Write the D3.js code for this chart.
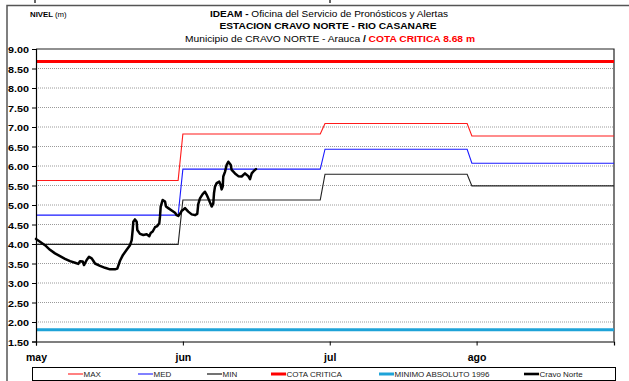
<!DOCTYPE html>
<html>
<head>
<meta charset="utf-8">
<script src="https://cdn.jsdelivr.net/npm/d3@7"></script>
<style>
  html, body { margin: 0; padding: 0; background: #fff; }
  svg { display: block; }
  text { font-family: "Liberation Sans", Arial, sans-serif; }
</style>
</head>
<body>
<script>
// ---- Data -------------------------------------------------------------
const monthLabels = ["may", "jun", "jul", "ago"];
const monthStart  = ["2010-05-01", "2010-06-01", "2010-07-01", "2010-08-01"];
const monthEnd    = ["2010-05-31", "2010-06-30", "2010-07-31", "2010-08-31"];
const labelEvery  = 31;   // days between axis labels

// Historical monthly levels (m)
const maxLevel = [5.63, 6.82, 7.09, 6.77];
const medLevel = [4.74, 5.92, 6.43, 6.07];
const minLevel = [3.99, 5.13, 5.79, 5.49];

const cotaCritica = 8.68;     // critical level
const minimoAbsoluto = 1.80;  // absolute minimum, 1996

const yTicks = [1.5, 2.0, 2.5, 3.0, 3.5, 4.0, 4.5, 5.0, 5.5, 6.0, 6.5, 7.0, 7.5, 8.0, 8.5, 9.0];

// Observed level at Cravo Norte: reading time (days after 1 May) and level (m)
const cravoDay = [0, 0.84, 1.90, 2.95, 4.01, 5.07, 6.12, 7.18, 8.23, 8.93, 9.29, 9.86, 10.13, 10.70,
  11.19, 11.76, 12.09, 12.45, 13.51, 14.56, 15.62, 16.67, 17.16, 17.73, 18.36, 19.14, 19.84,
  20.20, 20.41, 20.54, 20.89, 21.25, 21.38, 21.95, 22.65, 23.36, 23.91, 24.21, 24.63, 25.12,
  25.60, 26.02, 26.17, 26.32, 26.74, 27.23, 27.44, 27.92, 28.64, 29.34, 29.70, 30.03, 30.54,
  30.75, 31.09, 31.45, 32.14, 32.86, 33.56, 34.04, 34.25, 34.61, 35.18, 35.67, 36.03, 36.51,
  37.08, 37.42, 37.57, 37.78, 38.14, 38.69, 38.98, 39.19, 39.41, 39.53, 39.89, 40.25, 40.59,
  41.09, 41.30, 42.00, 42.70, 43.41, 44.11, 44.81, 45.17, 45.53, 46.01, 46.43];
const cravoLevel = [4.13, 4.06, 3.97, 3.85, 3.76, 3.69, 3.62, 3.56, 3.52, 3.49, 3.56, 3.55, 3.46, 3.59,
  3.67, 3.63, 3.57, 3.50, 3.44, 3.39, 3.35, 3.35, 3.37, 3.57, 3.72, 3.85, 3.97,
  4.10, 4.36, 4.57, 4.63, 4.57, 4.36, 4.26, 4.23, 4.25, 4.20, 4.28, 4.32, 4.43,
  4.46, 4.53, 4.70, 4.96, 5.13, 5.09, 4.96, 4.92, 4.86, 4.80, 4.74, 4.72, 4.80,
  4.85, 4.88, 4.92, 4.83, 4.76, 4.74, 4.77, 5.02, 5.17, 5.28, 5.34, 5.26, 5.13,
  4.96, 5.04, 5.30, 5.47, 5.56, 5.60, 5.51, 5.40, 5.47, 5.73, 5.85, 6.03, 6.11,
  6.03, 5.90, 5.81, 5.74, 5.73, 5.81, 5.74, 5.66, 5.81, 5.88, 5.92];

// ---- Layout -----------------------------------------------------------
const W = 629, H = 381;
const plot = { left: 36, right: 614, top: 49, bottom: 341.5 };

const parse = d3.timeParse("%Y-%m-%d");
const start = parse(monthStart[0]);
const x = d3.scaleTime()
  .domain([start, parse(monthEnd[3])])
  .range([plot.left, plot.right]);
const y = d3.scaleLinear().domain([1.5, 9.0]).range([plot.bottom, plot.top]);

const svg = d3.select("body").append("svg").attr("width", W).attr("height", H);

// outer chart frame
svg.append("path")
  .attr("d", `M7,${H + 2} V5.5 H${W + 2}`)
  .attr("fill", "none").attr("stroke", "#555").attr("stroke-width", 1.5);
svg.selectAll("line.topmark").data([35, 330]).join("line")
  .attr("x1", d => d).attr("x2", d => d).attr("y1", 0).attr("y2", 3)
  .attr("stroke", "#333").attr("stroke-width", 1.5);

// ---- Titles -----------------------------------------------------------
const t1 = svg.append("text").attr("x", 329).attr("y", 17).attr("text-anchor", "middle")
  .attr("font-size", 9.8).attr("textLength", 238).attr("lengthAdjust", "spacingAndGlyphs");
t1.append("tspan").attr("font-weight", "bold").text("IDEAM - ");
t1.append("tspan").text("Oficina del Servicio de Pronósticos y Alertas");

svg.append("text").attr("x", 328).attr("y", 29.3).attr("text-anchor", "middle")
  .attr("font-size", 9.8).attr("font-weight", "bold")
  .attr("textLength", 217).attr("lengthAdjust", "spacingAndGlyphs")
  .text("ESTACION CRAVO NORTE - RIO CASANARE");

const t3 = svg.append("text").attr("x", 330).attr("y", 41.5).attr("text-anchor", "middle")
  .attr("font-size", 9.8).attr("textLength", 290).attr("lengthAdjust", "spacingAndGlyphs");
t3.append("tspan").text("Municipio de CRAVO NORTE - Arauca ");
t3.append("tspan").attr("font-weight", "bold").text(" / ");
t3.append("tspan").attr("font-weight", "bold").attr("fill", "#ff0000").text(" COTA CRITICA 8.68 m");

const nv = svg.append("text").attr("x", 30).attr("y", 17).attr("font-size", 7.8);
nv.append("tspan").attr("font-weight", "bold").text("NIVEL ");
nv.append("tspan").text("(m)");

// ---- Grid & frame -----------------------------------------------------
svg.append("g").selectAll("line").data(yTicks.filter(v => v > 1.5 && v < 9))
  .join("line")
  .attr("x1", plot.left).attr("x2", plot.right)
  .attr("y1", d => y(d)).attr("y2", d => y(d))
  .attr("stroke", "#9a9a9a").attr("stroke-width", 1).attr("stroke-dasharray", "1,1");

svg.append("path")
  .attr("d", `M${plot.left},${plot.top} H${plot.right} V${plot.bottom}`)
  .attr("fill", "none").attr("stroke", "#222").attr("stroke-width", 1.2);

// ---- Series -----------------------------------------------------------
const stepPoints = vals => vals.flatMap((v, i) => [
  [parse(monthStart[i]), v], [parse(monthEnd[i]), v]
]);
const line = d3.line().x(d => x(d[0])).y(d => y(d[1]));

const drawRef = (vals, color, width) => svg.append("path")
  .datum(stepPoints(vals)).attr("d", line)
  .attr("fill", "none").attr("stroke", color).attr("stroke-width", width);

drawRef(minLevel, "#222", 1.1);
drawRef(medLevel, "#1a1aff", 1.1);
drawRef(maxLevel, "#ff1a1a", 1.1);

const flat = (v, color, width) => svg.append("path")
  .datum([[x.domain()[0], v], [x.domain()[1], v]]).attr("d", line)
  .attr("fill", "none").attr("stroke", color).attr("stroke-width", width);
flat(cotaCritica, "#ff0000", 3);
flat(minimoAbsoluto, "#1ea3d8", 3);

const dayMs = 24 * 3600 * 1000;
svg.append("path")
  .datum(cravoDay.map((d, i) => [new Date(start.getTime() + d * dayMs), cravoLevel[i]]))
  .attr("d", line)
  .attr("fill", "none").attr("stroke", "#000").attr("stroke-width", 2.5)
  .attr("stroke-linejoin", "round").attr("stroke-linecap", "round");

// ---- Axes -------------------------------------------------------------
const yAxis = svg.append("g").attr("transform", `translate(${plot.left},0)`)
  .call(d3.axisLeft(y).tickValues(yTicks).tickSize(4).tickFormat(d3.format(".2f")));
yAxis.select(".domain").attr("stroke", "#000").attr("stroke-width", 1.2);
yAxis.selectAll(".tick line").attr("stroke", "#000");
yAxis.selectAll(".tick text")
  .attr("x", -7).attr("dy", "0.45em")
  .attr("font-size", 8.4).attr("font-weight", "bold").attr("fill", "#000")
  .attr("font-family", "'Liberation Sans', Arial, sans-serif")
  .attr("textLength", 21).attr("lengthAdjust", "spacingAndGlyphs");

const xTickDates = monthLabels.map((_, i) => d3.timeDay.offset(start, i * labelEvery));
const xAxis = svg.append("g").attr("transform", `translate(0,${plot.bottom})`)
  .call(d3.axisBottom(x).tickValues(xTickDates).tickSize(4)
    .tickFormat((d, i) => monthLabels[i]));
xAxis.select(".domain").attr("stroke", "#000").attr("stroke-width", 1.2);
xAxis.selectAll(".tick line").attr("stroke", "#000");
xAxis.selectAll(".tick text")
  .attr("y", 12).attr("font-size", 10.5).attr("font-weight", "bold").attr("fill", "#000")
  .attr("font-family", "'Liberation Sans', Arial, sans-serif");

// ---- Legend -----------------------------------------------------------
const legendItems = [
  { label: "MAX", color: "#ff1a1a", width: 1.1, x: 68 },
  { label: "MED", color: "#1a1aff", width: 1.1, x: 138 },
  { label: "MIN", color: "#000", width: 1.1, x: 207 },
  { label: "COTA CRITICA", color: "#ff0000", width: 3, x: 271 },
  { label: "MINIMO ABSOLUTO 1996", color: "#1ea3d8", width: 3, x: 379 },
  { label: "Cravo Norte", color: "#000", width: 2.6, x: 524 }
];
svg.append("rect").attr("x", 32.5).attr("y", 367.5).attr("width", 583).attr("height", 13)
  .attr("fill", "#fff").attr("stroke", "#000").attr("stroke-width", 1);
const lg = svg.append("g").selectAll("g").data(legendItems).join("g")
  .attr("transform", d => `translate(${d.x},374)`);
lg.append("line").attr("x1", 0).attr("x2", 15).attr("y1", 0).attr("y2", 0)
  .attr("stroke", d => d.color).attr("stroke-width", d => d.width);
lg.append("text").attr("x", 15.5).attr("y", 2.9).attr("font-size", 8).attr("fill", "#222")
  .text(d => d.label);
</script>
</body>
</html>
